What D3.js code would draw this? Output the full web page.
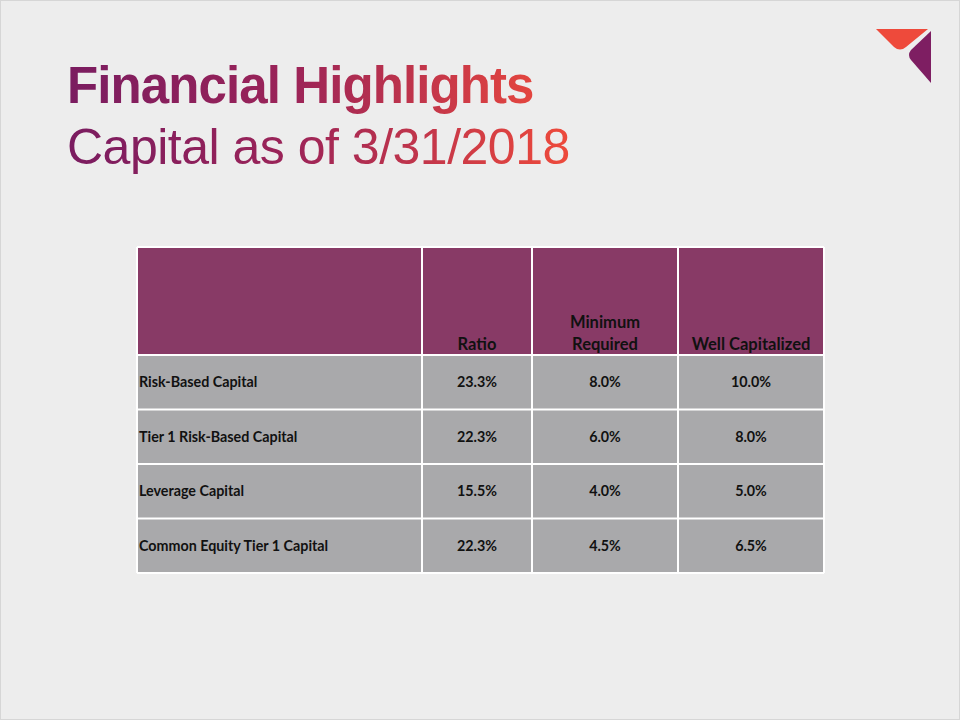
<!DOCTYPE html>
<html><head><meta charset="utf-8">
<script src="https://cdn.jsdelivr.net/npm/d3@7"></script>
<style>html,body{margin:0;padding:0;background:#EDEDED;}</style>
</head><body>
<svg id="c" width="960" height="720"></svg>
<script>
const titleLine1 = "Financial Highlights";
const titleLine2 = "Capital as of 3/31/2018";
const columns = ["", "Ratio", "Minimum\nRequired", "Well Capitalized"];
const categories = ["Risk-Based Capital", "Tier 1 Risk-Based Capital", "Leverage Capital", "Common Equity Tier 1 Capital"];
const ratio = ["23.3%", "22.3%", "15.5%", "22.3%"];
const minimumRequired = ["8.0%", "6.0%", "4.0%", "4.5%"];
const wellCapitalized = ["10.0%", "8.0%", "5.0%", "6.5%"];

const svg = d3.select("#c");
svg.append("rect").attr("width",960).attr("height",720).attr("fill","#EDEDED");
svg.append("rect").attr("x",0.5).attr("y",0.5).attr("width",959).attr("height",719).attr("fill","none").attr("stroke","#D6D6D6");

// gradient
const defs = svg.append("defs");
const g1 = defs.append("linearGradient").attr("id","tg").attr("gradientUnits","userSpaceOnUse")
  .attr("x1",68).attr("x2",570).attr("y1",0).attr("y2",0);
g1.append("stop").attr("offset","0%").attr("stop-color","#7A1C60");
g1.append("stop").attr("offset","45%").attr("stop-color","#9C2458");
g1.append("stop").attr("offset","100%").attr("stop-color","#EE4A3B");

svg.append("text").attr("x",67).attr("y",103).text(titleLine1)
  .attr("font-family","Liberation Sans, Arial").attr("font-weight","bold").attr("font-size",51)
  .attr("letter-spacing",-0.9).attr("fill","url(#tg)");
svg.append("text").attr("x",67).attr("y",164).text(titleLine2)
  .attr("font-family","Liberation Sans, Arial").attr("font-size",50)
  .attr("letter-spacing",-0.5).attr("fill","url(#tg)");

// logo
svg.append("path").attr("d","M876,29 L928,29 L906,47 Q900,52 894,47 Z").attr("fill","#EE4A3B");
svg.append("path").attr("d","M931,31 L931,83 L911,60 Q907,55 911,50 Z").attr("fill","#7E1E62");

// table
const colEdges = [137, 422, 532, 678, 824];
const x = d3.scaleOrdinal().domain(d3.range(4)).range(colEdges.slice(0,4));
const w = i => colEdges[i+1]-colEdges[i];
const headerTop = 247, headerBottom = 355;
const y = d3.scaleBand().domain(categories).range([headerBottom, 573]);

const font = "Lato, Open Sans, sans-serif";
const hdr = svg.append("g");
hdr.selectAll("rect").data(columns).join("rect")
  .attr("x",(d,i)=>x(i)).attr("y",headerTop).attr("width",(d,i)=>w(i)).attr("height",headerBottom-headerTop)
  .attr("fill","#883A66");
hdr.selectAll("text").data(columns).join("text")
  .attr("x",(d,i)=>x(i)+w(i)/2).attr("y",350).attr("text-anchor","middle")
  .attr("font-family",font).attr("font-weight","bold").attr("font-size",16.5).attr("fill","#111")
  .each(function(d){
    const lines = d.split("\n");
    d3.select(this).selectAll("tspan").data(lines).join("tspan")
      .attr("x",d3.select(this).attr("x")).attr("dy",(l,j)=> j===0 ? -(lines.length-1)*22 : 22).text(l=>l);
  });

const cells = [];
categories.forEach((c,r)=>{
  [c, ratio[r], minimumRequired[r], wellCapitalized[r]].forEach((v,i)=>cells.push({r:c,i,v}));
});
const body = svg.append("g");
body.selectAll("rect").data(cells).join("rect")
  .attr("x",d=>x(d.i)).attr("y",d=>y(d.r)).attr("width",d=>w(d.i)).attr("height",y.bandwidth())
  .attr("fill","#A9A9AB");
body.selectAll("text").data(cells).join("text")
  .attr("x",d=> d.i===0 ? x(0)+2 : x(d.i)+w(d.i)/2)
  .attr("y",d=>y(d.r)+y.bandwidth()/2+5)
  .attr("text-anchor",d=>d.i===0?"start":"middle")
  .attr("font-family",font).attr("font-weight","bold").attr("font-size",14.3).attr("fill","#111")
  .text(d=>d.v);

// grid lines (white)
const lines = svg.append("g").attr("stroke","#FFFFFF").attr("stroke-width",2);
colEdges.forEach(cx=>lines.append("line").attr("x1",cx).attr("x2",cx).attr("y1",headerTop).attr("y2",573));
[headerTop, ...categories.map(c=>y(c)), 573].forEach(ly=>lines.append("line").attr("x1",colEdges[0]).attr("x2",colEdges[4]).attr("y1",ly).attr("y2",ly));
</script>
</body></html>
